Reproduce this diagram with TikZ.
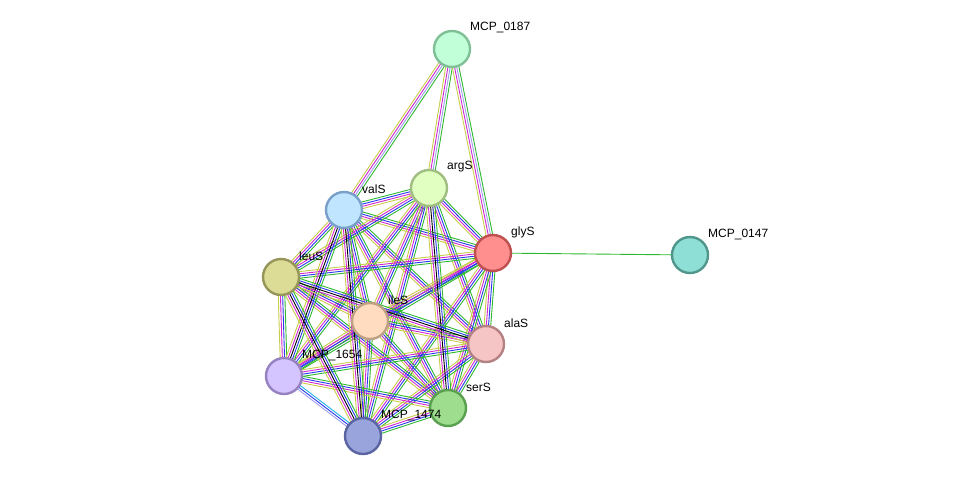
\documentclass[tikz,border=0pt]{standalone}
\usepackage{fontspec}
\setmainfont{Liberation Sans}
\usetikzlibrary{calc}
\definecolor{tm}{HTML}{C8CC48}
\definecolor{ex}{HTML}{D025D0}
\definecolor{nb}{HTML}{2EB82E}
\definecolor{co}{HTML}{2838F0}
\definecolor{hm}{HTML}{9C9CF0}
\definecolor{db}{HTML}{20B0E8}
\tikzset{prot/.style={circle, draw, line width=2.4pt, minimum size=36pt, inner sep=0pt},
  lbl/.style={anchor=west, font=\fontsize{12}{14}\selectfont, inner sep=0pt}}
% n parallel coloured lines between two nodes
\newcommand\lnk[3]{%
  \foreach \c [count=\i] in {#3}{\xdef\nl{\i}}%
  \foreach \c [count=\i] in {#3}{%
    \pgfmathsetmacro\o{(\i-1)*2.2-(\nl-1)*1.1}%
    \draw[\c, line width=0.9pt] ($(#1)!\o pt!90:(#2)$) -- ($(#2)!\o pt!-90:(#1)$);}}
\begin{document}
\begin{tikzpicture}[x=1pt, y=-1pt]
  \useasboundingbox (0,0) rectangle (976,482);
  \coordinate (p0187) at (452,49);
  \coordinate (pargS) at (429,188);
  \coordinate (pvalS) at (344,210);
  \coordinate (pglyS) at (493,253);
  \coordinate (p0147) at (690,255);
  \coordinate (pleuS) at (281,277);
  \coordinate (pileS) at (370,321);
  \coordinate (palaS) at (486,344);
  \coordinate (p1654) at (284,376);
  \coordinate (pserS) at (448,408);
  \coordinate (p1474) at (363,436);

  % edges
  \lnk{p0187}{pvalS}{tm,ex,hm,nb}
  \lnk{p0187}{pargS}{tm,ex,hm,nb}
  \lnk{p0187}{pglyS}{tm,ex,hm,nb}
  \lnk{pglyS}{p0147}{nb}
  \foreach \a/\b in {valS/argS, valS/glyS, valS/leuS, valS/ileS, valS/alaS, valS/serS,
    argS/glyS, argS/leuS, argS/ileS, argS/alaS, argS/1654, argS/1474,
    glyS/leuS, glyS/ileS, glyS/alaS, glyS/1654, glyS/serS, glyS/1474,
    leuS/ileS, leuS/1654, leuS/serS,
    ileS/alaS, ileS/1654, ileS/serS, ileS/1474,
    alaS/1654, alaS/serS, alaS/1474, 1654/serS, serS/1474}
    {\lnk{p\a}{p\b}{tm,ex,co,nb}}
  \foreach \a/\b in {valS/1654, valS/1474, argS/serS, leuS/alaS, leuS/1474}
    {\lnk{p\a}{p\b}{tm,ex,black,co,nb}}
  \lnk{p1654}{p1474}{hm,co,db}

  % proteins
  \node[prot, draw={rgb,255:red,128;green,192;blue,150}, fill={rgb,255:red,192;green,255;blue,216}] (n0187) at (p0187) {};
  \node[prot, draw={rgb,255:red,160;green,190;blue,130}, fill={rgb,255:red,224;green,255;blue,192}] (nargS) at (pargS) {};
  \node[prot, draw={rgb,255:red,120;green,160;blue,200}, fill={rgb,255:red,192;green,230;blue,255}] (nvalS) at (pvalS) {};
  \node[prot, draw={rgb,255:red,190;green,80;blue,80}, fill={rgb,255:red,255;green,142;blue,142}] (nglyS) at (pglyS) {};
  \node[prot, draw={rgb,255:red,80;green,150;blue,140}, fill={rgb,255:red,142;green,224;blue,214}] (n0147) at (p0147) {};
  \node[prot, draw={rgb,255:red,150;green,150;blue,90}, fill={rgb,255:red,220;green,220;blue,150}] (nleuS) at (pleuS) {};
  \node[prot, draw={rgb,255:red,190;green,160;blue,130}, fill={rgb,255:red,255;green,220;blue,192}] (nileS) at (pileS) {};
  \node[prot, draw={rgb,255:red,180;green,130;blue,130}, fill={rgb,255:red,245;green,196;blue,196}] (nalaS) at (palaS) {};
  \node[prot, draw={rgb,255:red,150;green,130;blue,190}, fill={rgb,255:red,212;green,196;blue,255}] (n1654) at (p1654) {};
  \node[prot, draw={rgb,255:red,90;green,160;blue,80}, fill={rgb,255:red,158;green,220;blue,142}] (nserS) at (pserS) {};
  \node[prot, draw={rgb,255:red,90;green,100;blue,160}, fill={rgb,255:red,154;green,164;blue,220}] (n1474) at (p1474) {};

  % labels
  \foreach \n/\t in {0187/MCP\_0187, argS/argS, valS/valS, glyS/glyS, 0147/MCP\_0147, leuS/leuS,
    ileS/ileS, alaS/alaS, 1654/MCP\_1654, serS/serS, 1474/MCP\_1474}
    \node[lbl] (l\n) at ($(p\n)+(18,-21)$) {\t};
\end{tikzpicture}
\end{document}
